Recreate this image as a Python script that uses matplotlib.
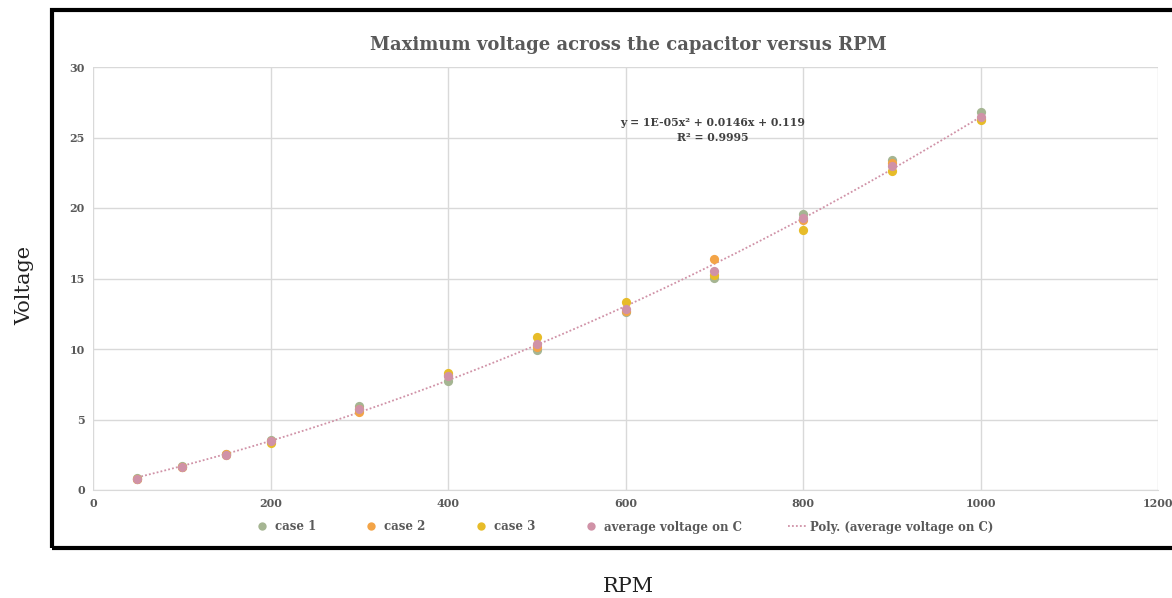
import numpy as np
import matplotlib
matplotlib.use("Agg")
import matplotlib.pyplot as plt
from matplotlib.patches import Rectangle
from matplotlib.lines import Line2D

rpm = [50, 100, 150, 200, 300, 400, 500, 600, 700, 800, 900, 1000]
case1 = [0.82, 1.68, 2.52, 3.55, 5.95, 7.75, 9.95, 12.65, 15.05, 19.57, 23.38, 26.83]
case2 = [0.78, 1.62, 2.55, 3.50, 5.55, 8.18, 10.15, 12.70, 16.36, 19.15, 23.17, 26.30]
case3 = [0.80, 1.60, 2.45, 3.35, 5.72, 8.30, 10.85, 13.30, 15.25, 18.42, 22.62, 26.22]
avg = [0.80, 1.65, 2.50, 3.50, 5.74, 8.05, 10.35, 12.85, 15.55, 19.31, 23.00, 26.45]

title = "Maximum voltage across the capacitor versus RPM"
eq_text = "y = 1E-05x\u00b2 + 0.0146x + 0.119\nR\u00b2 = 0.9995"
series_names = ["case 1", "case 2", "case 3", "average voltage on C"]
trend_name = "Poly. (average voltage on C)"
colors = ["#A5B592", "#F3A447", "#E7BC29", "#D092A7"]

plt.rcParams['font.family'] = ['DejaVu Serif']

W, H = 1172, 598
fig = plt.figure(figsize=(W / 100, H / 100), dpi=100)
fig.patch.set_facecolor("white")

# black frame
fig.patches.append(Rectangle((52 / W, 1 - 548 / H), 1.2, (548 - 10) / H,
                             transform=fig.transFigure, fill=False,
                             edgecolor="black", linewidth=3.0, zorder=0))

ax = fig.add_axes([93 / W, 1 - 490 / H, (1158 - 93) / W, (490 - 67) / H])
ax.set_xlim(0, 1200)
ax.set_ylim(0, 30)
ax.set_xticks(range(0, 1201, 200))
ax.set_yticks(range(0, 31, 5))
ax.grid(True, color="#D9D9D9", linewidth=1.0)
ax.set_axisbelow(True)
for s in ["top", "right", "left"]:
    ax.spines[s].set_visible(False)
ax.spines["bottom"].set_color("#D9D9D9")
ax.tick_params(length=0, labelsize=8, labelcolor="#595959", pad=6)
for lbl in ax.get_xticklabels() + ax.get_yticklabels():
    lbl.set_fontweight("bold")

# trendline
coef = np.polyfit(rpm, avg, 2)
xs = np.linspace(min(rpm), max(rpm), 200)
ax.plot(xs, np.polyval(coef, xs), linestyle=(0, (1, 1.2)), color=colors[3],
        linewidth=1.3, zorder=2)

for vals, c in zip([case1, case2, case3, avg], colors):
    ax.scatter(rpm, vals, s=44, color=c, zorder=3, linewidths=0)

ax.text(698, 25.55, eq_text, ha="center", va="center", fontsize=7.8,
        fontweight="bold", color="#404040", linespacing=1.45)

fig.text(628 / W, 1 - 45 / H, title, ha="center", va="center", fontsize=13,
         fontweight="bold", color="#595959")

fig.text(25 / W, 1 - 285 / H, "Voltage", rotation=90, ha="center", va="center",
         fontsize=15, color="#222222")
fig.text(628 / W, 1 - 587 / H, "RPM", ha="center", va="center",
         fontsize=15, color="#222222")

handles = [Line2D([], [], linestyle="none", marker="o", markersize=6,
                  markerfacecolor=c, markeredgewidth=0) for c in colors]
handles.append(Line2D([], [], linestyle=(0, (1, 1.2)), color=colors[3], linewidth=1.3))
leg = fig.legend(handles, series_names + [trend_name], loc="center",
                 bbox_to_anchor=(623 / W, 1 - 527 / H), ncol=5, frameon=False,
                 fontsize=8.5, handlelength=1.6, columnspacing=3.9, handletextpad=0.3)
for t in leg.get_texts():
    t.set_color("#595959")
    t.set_fontweight("bold")

fig.savefig("out.png", dpi=100, facecolor="white")
